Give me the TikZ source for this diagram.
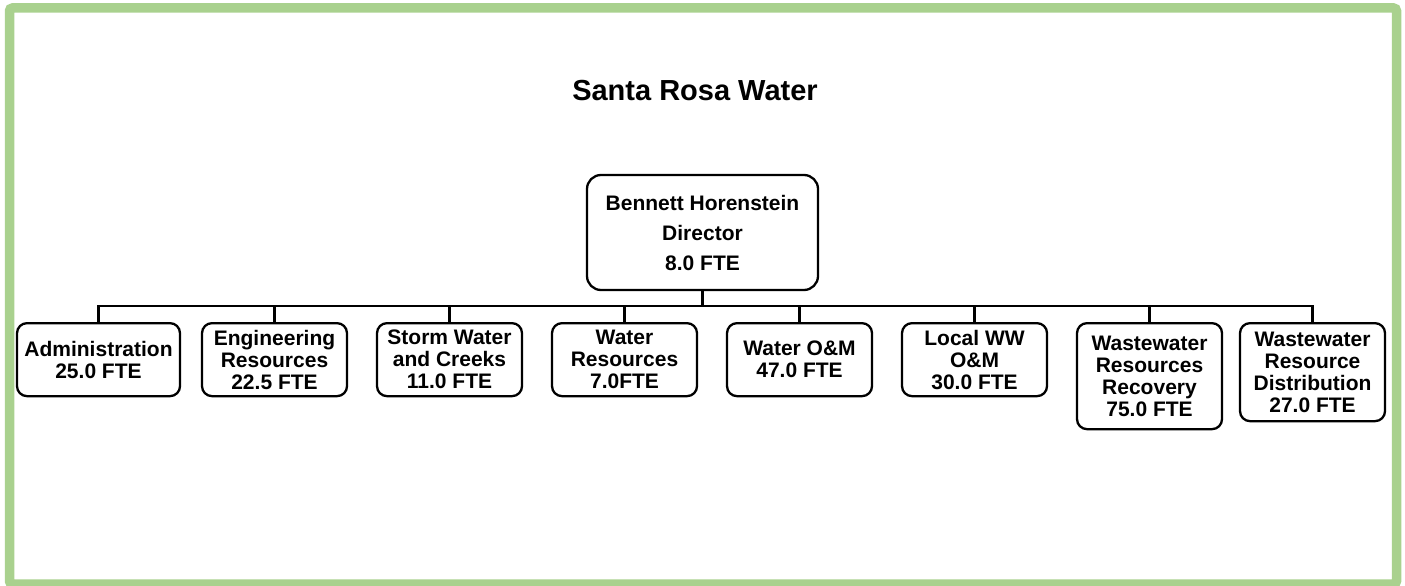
\documentclass[tikz,border=0pt]{standalone}
\usepackage{fontspec}
\setmainfont{Liberation Sans}
\definecolor{framegreen}{HTML}{A9D18E}
\tikzset{
  unit/.style={draw,line width=2.3pt,rounded corners=10pt,anchor=north,align=center,
    minimum width=145pt,minimum height=73pt,inner sep=2pt,
    font=\bfseries\fontsize{21}{22}\selectfont},
  boss/.style={draw,line width=2.3pt,rounded corners=14pt,align=center,
    minimum width=231pt,minimum height=115pt,inner sep=2pt,
    font=\bfseries\fontsize{21}{30}\selectfont},
  tie/.style={line width=2.6pt}
}
\begin{document}
\begin{tikzpicture}[x=1pt,y=-1pt]
\useasboundingbox (0,0) rectangle (1405,586);
\draw[framegreen,line width=9.5pt,rounded corners=3pt](9.5,8) rectangle (1396.5,584);
\node[font=\bfseries\fontsize{29}{34}\selectfont] (title) at (695,91) {Santa Rosa Water};
\node[boss] (dir) at (702.5,232.5) {Bennett Horenstein\\Director\\8.0 FTE};
% units
\node[unit,minimum width=163pt] (adm) at (98.5,322) {Administration\\25.0 FTE};
\node[unit] (eng) at (274.5,322) {Engineering\\Resources\\22.5 FTE};
\node[unit] (storm) at (449.5,322) {Storm Water\\and Creeks\\11.0 FTE};
\node[unit] (wres) at (624.5,322) {Water\\Resources\\7.0FTE};
\node[unit] (wom) at (799.5,322) {Water O\&M\\47.0 FTE};
\node[unit] (lww) at (974.5,322) {Local WW\\O\&M\\30.0 FTE};
\node[unit,minimum height=106pt] (wwrr) at (1149.5,322) {Wastewater\\Resources\\Recovery\\75.0 FTE};
\node[unit,minimum height=98pt] (wwrd) at (1312.5,322) {Wastewater\\Resource\\Distribution\\27.0 FTE};
\foreach \u in {adm,eng,storm,wres,wom,lww,wwrr,wwrd}
  \draw[tie](dir.south)--++(0,15)-|(\u.north);
\end{tikzpicture}
\end{document}
